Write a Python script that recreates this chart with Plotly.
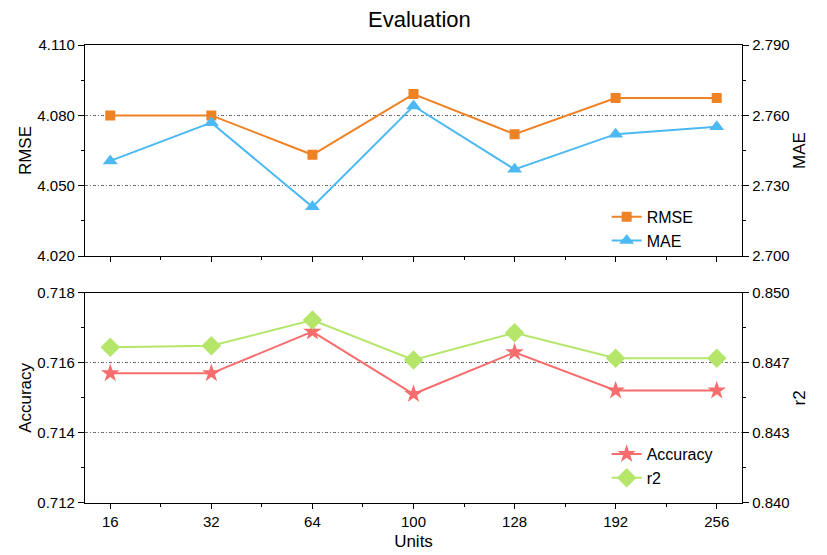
import plotly.graph_objects as go

units = ["16", "32", "64", "100", "128", "192", "256"]
rmse = [4.0800, 4.0800, 4.0632, 4.0891, 4.0720, 4.0874, 4.0874]
mae = [2.7406, 2.7569, 2.7210, 2.7640, 2.7370, 2.7520, 2.7551]
accuracy = [0.7157, 0.7157, 0.71689, 0.71511, 0.7163, 0.71521, 0.71521]
r2 = [0.84741, 0.84748, 0.8487, 0.8468, 0.8481, 0.84689, 0.84689]

rmse_ticks = [4.020, 4.050, 4.080, 4.110]
mae_ticks = [2.700, 2.730, 2.760, 2.790]
acc_ticks = [0.712, 0.714, 0.716, 0.718]
r2_ticks = [0.840, 0.840 + 0.01 / 3, 0.840 + 0.02 / 3, 0.850]
r2_labels = ["0.840", "0.843", "0.847", "0.850"]

xi = list(range(len(units)))
FONT = "Liberation Sans, Arial, sans-serif"
c_rmse = "#F08226"
c_mae = "#4DB9F2"
c_acc = "#F76C6C"
c_r2 = "#B5E66A"

fig = go.Figure()
fig.add_trace(go.Scatter(x=xi, y=rmse, name="RMSE", xaxis="x", yaxis="y",
                         mode="lines+markers", line=dict(color=c_rmse, width=2),
                         marker=dict(symbol="square", size=10, color=c_rmse),
                         legend="legend"))
fig.add_trace(go.Scatter(x=xi, y=mae, name="MAE", xaxis="x", yaxis="y2",
                         mode="lines+markers", line=dict(color=c_mae, width=2),
                         marker=dict(symbol="triangle-up", size=13, color=c_mae),
                         legend="legend"))
fig.add_trace(go.Scatter(x=xi, y=accuracy, name="Accuracy", xaxis="x2", yaxis="y3",
                         mode="lines+markers", line=dict(color=c_acc, width=2),
                         marker=dict(symbol="star", size=14, color=c_acc),
                         legend="legend2"))
fig.add_trace(go.Scatter(x=xi, y=r2, name="r2", xaxis="x2", yaxis="y4",
                         mode="lines+markers", line=dict(color=c_r2, width=2),
                         marker=dict(symbol="diamond", size=15, color=c_r2),
                         legend="legend2"))

grid = dict(showgrid=True, gridcolor="#707070", gridwidth=1, griddash="3px,2px,1px,2px")
common_y = dict(showline=True, linecolor="black", linewidth=1.3, ticks="outside",
                ticklen=6, tickcolor="black", zeroline=False,
                tickfont=dict(size=15, color="black", family=FONT),
                title_font=dict(size=17, color="black", family=FONT))
common_x = dict(showline=True, linecolor="black", linewidth=1.3, ticks="outside",
                ticklen=5, tickcolor="black", zeroline=False, range=[-0.25, 6.25],
                tickmode="array", tickvals=xi, showgrid=False, mirror=True,
                minor=dict(ticks="outside", ticklen=3, tickcolor="black",
                           tickmode="array", tickvals=[i + 0.5 for i in xi[:-1]]),
                tickfont=dict(size=15, color="black", family=FONT),
                title_font=dict(size=17, color="black", family=FONT))

fig.update_layout(
    width=827, height=555,
    margin=dict(l=77, r=93, t=37, b=60),
    paper_bgcolor="white", plot_bgcolor="white",
    font=dict(family=FONT, color="black"),
    title=dict(text="Evaluation", x=0.4975, xanchor="center", y=0.993, yanchor="top",
               pad=dict(t=0, b=0),
               font=dict(size=22, color="black", family=FONT)),
    xaxis=dict(common_x, domain=[0, 1], anchor="y", showticklabels=False,
               ticktext=units),
    xaxis2=dict(common_x, domain=[0, 1], anchor="y3", ticktext=units,
                title=dict(text="Units", standoff=5)),
    yaxis=dict(common_y, **grid, domain=[0.539, 1], anchor="x", range=[4.020, 4.110],
               tickmode="array", tickvals=rmse_ticks,
               ticktext=[f"{v:.3f}" for v in rmse_ticks],
               minor=dict(ticks="outside", ticklen=3, tickcolor="black",
                          tickmode="array", tickvals=[4.035, 4.065, 4.095]),
               title=dict(text="RMSE", standoff=1)),
    yaxis2=dict(common_y, domain=[0.539, 1], anchor="x", overlaying="y", side="right",
                range=[2.700, 2.790], tickmode="array", tickvals=mae_ticks,
                ticktext=[f"{v:.3f}" for v in mae_ticks], showgrid=False,
                minor=dict(ticks="outside", ticklen=3, tickcolor="black",
                           tickmode="array", tickvals=[2.715, 2.745, 2.775]),
                title=dict(text="MAE", standoff=4)),
    yaxis3=dict(common_y, **grid, domain=[0, 0.459], anchor="x2", range=[0.712, 0.718],
                tickmode="array", tickvals=acc_ticks,
                ticktext=[f"{v:.3f}" for v in acc_ticks],
                minor=dict(ticks="outside", ticklen=3, tickcolor="black",
                           tickmode="array", tickvals=[0.713, 0.715, 0.717]),
                title=dict(text="Accuracy", standoff=1)),
    yaxis4=dict(common_y, domain=[0, 0.459], anchor="x2", overlaying="y3", side="right",
                range=[0.840, 0.850], tickmode="array", tickvals=r2_ticks,
                ticktext=r2_labels, showgrid=False,
                minor=dict(ticks="outside", ticklen=3, tickcolor="black",
                           tickmode="array",
                           tickvals=[0.840 + 0.005 / 3, 0.840 + 0.015 / 3, 0.840 + 0.025 / 3]),
                title=dict(text="r2", standoff=4)),
    legend=dict(x=0.794, y=0.662, xanchor="left", yanchor="top", bgcolor="rgba(0,0,0,0)",
                font=dict(size=16, color="black", family=FONT), itemwidth=30,
                tracegroupgap=0),
    legend2=dict(x=0.794, y=0.144, xanchor="left", yanchor="top", bgcolor="rgba(0,0,0,0)",
                 font=dict(size=16, color="black", family=FONT), itemwidth=30,
                 tracegroupgap=0),
    showlegend=True,
)

fig.write_html("out.html")
